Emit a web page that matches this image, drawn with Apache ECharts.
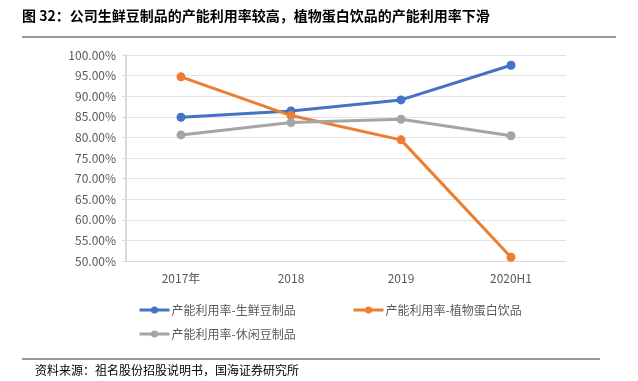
<!DOCTYPE html>
<html><head><meta charset="utf-8">
<script src="https://cdn.jsdelivr.net/npm/echarts@6/dist/echarts.min.js"></script>
<style>html,body{margin:0;padding:0;background:#fff}#c{width:638px;height:381px}</style>
</head><body><div id="c"></div>
<script>
const categories = ['2017年', '2018', '2019', '2020H1'];
const freshSoy = [84.9, 86.4, 89.1, 97.5];
const plantDrink = [94.7, 85.3, 79.4, 50.9];
const snackSoy = [80.6, 83.6, 84.4, 80.4];
const seriesNames = ['产能利用率-生鲜豆制品', '产能利用率-植物蛋白饮品', '产能利用率-休闲豆制品'];
const colors = ['#4472C4', '#ED7D31', '#A5A5A5'];
const titleText = '图 32：公司生鲜豆制品的产能利用率较高，植物蛋白饮品的产能利用率下滑';
const sourceText = '资料来源：祖名股份招股说明书，国海证券研究所';

const chart = echarts.init(document.getElementById('c'));
const font = '"Noto Sans CJK SC", "Noto Sans", sans-serif';
const legendBase = {itemWidth: 30, itemHeight: 9, itemGap: 0, lineStyle: {width: 3},
  textStyle: {color: '#595959', fontSize: 12, fontFamily: font, padding: [0, 0, 0, -3]}};
function mkSeries(name, data, color) {
  return {name, type: 'line', data, symbol: 'circle', symbolSize: 9,
    lineStyle: {width: 3, color}, itemStyle: {color}};
}
chart.setOption({
  animation: false,
  textStyle: {fontFamily: font},
  grid: {left: 126, right: 72, top: 55, bottom: 120},
  xAxis: {type: 'category', data: categories, boundaryGap: true,
    axisLine: {lineStyle: {color: '#d9d9d9', width: 1}}, axisTick: {show: false},
    axisLabel: {color: '#595959', fontSize: 12, margin: 11}},
  yAxis: {type: 'value', min: 50, max: 100, interval: 5,
    axisLine: {show: true, lineStyle: {color: '#d9d9d9', width: 2}},
    axisTick: {show: true, length: 4, lineStyle: {color: '#d9d9d9'}},
    splitLine: {lineStyle: {color: '#e3e3e3', width: 1}},
    axisLabel: {color: '#595959', fontSize: 12, margin: 10, formatter: v => v.toFixed(2) + '%'}},
  legend: [
    Object.assign({}, legendBase, {left: 133, top: 299, data: [seriesNames[0]]}),
    Object.assign({}, legendBase, {left: 347, top: 299, data: [seriesNames[1]]}),
    Object.assign({}, legendBase, {left: 133, top: 323, data: [seriesNames[2]]})
  ],
  series: [
    mkSeries(seriesNames[0], freshSoy, colors[0]),
    mkSeries(seriesNames[1], plantDrink, colors[1]),
    mkSeries(seriesNames[2], snackSoy, colors[2])
  ],
  graphic: [
    {type: 'text', left: 22, top: 9, style: {text: titleText, fill: '#000', font: 'bold 14px ' + font}},
    {type: 'line', shape: {x1: 22, y1: 37, x2: 616, y2: 37}, style: {stroke: '#333', lineWidth: 1}},
    {type: 'line', shape: {x1: 22, y1: 359, x2: 600, y2: 359}, style: {stroke: '#333', lineWidth: 1}},
    {type: 'text', left: 35, top: 364, style: {text: sourceText, fill: '#000', font: '12px ' + font}}
  ]
});
</script></body></html>
